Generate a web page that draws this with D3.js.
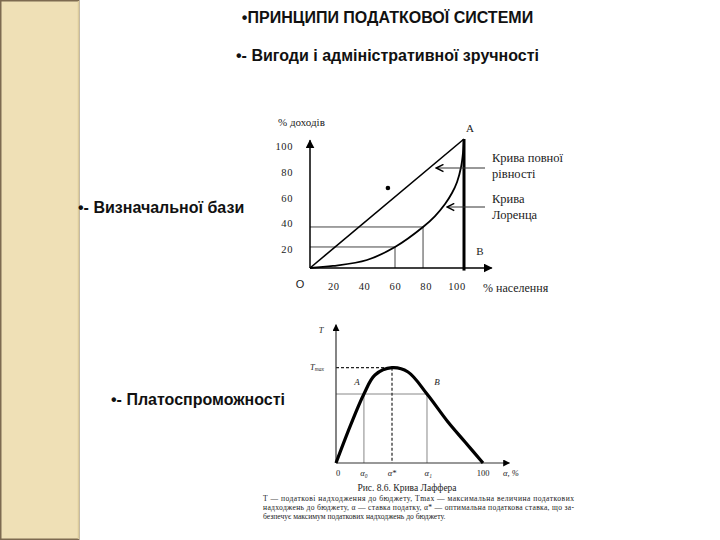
<!DOCTYPE html>
<html><head><meta charset="utf-8">
<script src="https://cdn.jsdelivr.net/npm/d3@7"></script>
<style>
html,body{margin:0;padding:0;background:#fff;}
svg{display:block;}
.h{font-family:"Liberation Sans",Arial,sans-serif;font-weight:bold;fill:#111;}
.s{font-family:"Liberation Serif","Times New Roman",serif;fill:#222;}
</style></head>
<body>
<script>
// ---------- data ----------
const titleText = "•ПРИНЦИПИ ПОДАТКОВОЇ СИСТЕМИ";
const bulletTexts = ["•- Вигоди і адміністративної зручності", "•- Визначальної бази", "•- Платоспроможності"];

// Lorenz chart (% population -> % income)
const lorenzX = [0, 14.9, 37, 55.2, 73.4, 81.2, 87.7, 92.2, 95.5, 98.1, 99.4, 100];
const lorenzY = [0, 1.6, 6.2, 16.3, 31.8, 40.3, 49.6, 58.1, 66.7, 78.3, 89.9, 100];
const equalityX = [0, 100];
const equalityY = [0, 100];
const lorenzGuideX = [55.2, 73.4];
const lorenzGuideY = [16.3, 31.8];
const lorenzTicks = [20, 40, 60, 80, 100];
const lorenzLabels = ["Крива повної", "рівності", "Крива", "Лоренца"];

// Laffer curve (tax rate -> tax revenue, % of max)
const lafferX = [0, 10, 19, 26.5, 38.1, 49, 61.9, 76.2, 87.8, 100];
const lafferY = [0, 40, 72.4, 92.3, 100, 95.5, 72.4, 43, 22, 0];
const lafferTickVals = [0, 19, 38.1, 62.8, 100];
const lafferTickLabels = ["0", "α₀", "α*", "α₁", "100"];
const lafferA = [19, 72.4];
const lafferB = [61.9, 72.4];
const lafferPeak = [38.1, 100];
const captionTitle = "Рис. 8.6. Крива Лаффера";
const captionLines = [
  "Т — податкові надходження до бюджету, Tmax — максимальна величина податкових",
  "надходжень до бюджету, α — ставка податку, α* — оптимальна податкова ставка, що за-",
  "безпечує максимум податкових надходжень до бюджету."
];

// ---------- drawing ----------
const W = 720, H = 540;
const svg = d3.select("body").append("svg").attr("width", W).attr("height", H);

const defs = svg.append("defs");
defs.append("marker").attr("id","tri").attr("viewBox","0 0 10 10").attr("refX",9).attr("refY",5)
  .attr("markerWidth",7).attr("markerHeight",7).attr("markerUnits","userSpaceOnUse").attr("orient","auto")
  .append("path").attr("d","M0,0 L10,5 L0,10 Z").attr("fill","#000");
defs.append("marker").attr("id","triL").attr("viewBox","0 0 10 10").attr("refX",9).attr("refY",5)
  .attr("markerWidth",9).attr("markerHeight",9).attr("markerUnits","userSpaceOnUse").attr("orient","auto")
  .append("path").attr("d","M0,0 L10,5 L0,10 Z").attr("fill","#000");
defs.append("marker").attr("id","chevE").attr("viewBox","0 0 10 10").attr("refX",9).attr("refY",5)
  .attr("markerWidth",9).attr("markerHeight",9).attr("markerUnits","userSpaceOnUse").attr("orient","auto")
  .append("path").attr("d","M1,1 L9,5 L1,9").attr("fill","none").attr("stroke","#000").attr("stroke-width",1.6);

// sidebar
svg.append("rect").attr("x",0.75).attr("y",0.75).attr("width",78).attr("height",H-1.5)
  .attr("fill","#efe0b6").attr("stroke","#7d6a50").attr("stroke-width",1.5);
svg.append("line").attr("x1",78.5).attr("x2",78.5).attr("y1",1).attr("y2",H-1).attr("stroke","#dccb9c").attr("stroke-width",1.5);

// headings
svg.append("text").attr("class","h").attr("x",387.5).attr("y",22.5).attr("text-anchor","middle")
  .attr("font-size",16).text(titleText);
svg.append("text").attr("class","h").attr("x",387.5).attr("y",60.5).attr("text-anchor","middle")
  .attr("font-size",16).text(bulletTexts[0]);
svg.append("text").attr("class","h").attr("x",78).attr("y",212.5)
  .attr("font-size",16).text(bulletTexts[1]);
svg.append("text").attr("class","h").attr("x",111).attr("y",404.5)
  .attr("font-size",16).text(bulletTexts[2]);

// ----- Lorenz chart -----
const lx = d3.scaleLinear().domain([0,100]).range([310,464]);
const ly = d3.scaleLinear().domain([0,100]).range([268,139]);
const L = svg.append("g");

// guide lines
lorenzGuideX.forEach((gx,i)=>{
  const gy = lorenzGuideY[i];
  L.append("line").attr("x1",lx(0)).attr("x2",lx(gx)).attr("y1",ly(gy)).attr("y2",ly(gy)).attr("stroke","#444").attr("stroke-width",1);
  L.append("line").attr("x1",lx(gx)).attr("x2",lx(gx)).attr("y1",ly(gy)).attr("y2",ly(0)).attr("stroke","#444").attr("stroke-width",1);
});
// axes
L.append("line").attr("x1",lx(0)).attr("x2",lx(0)).attr("y1",ly(0)).attr("y2",ly(99)).attr("stroke","#000").attr("stroke-width",1.5).attr("marker-end","url(#triL)");
L.append("line").attr("x1",lx(0)).attr("x2",lx(118)).attr("y1",ly(0)).attr("y2",ly(0)).attr("stroke","#000").attr("stroke-width",1.5).attr("marker-end","url(#triL)");
// A-B vertical
L.append("line").attr("x1",lx(100)).attr("x2",lx(100)).attr("y1",ly(100)).attr("y2",ly(-2)).attr("stroke","#000").attr("stroke-width",3);
// equality line
const lineL = d3.line().x(i=>lx(equalityX[i])).y(i=>ly(equalityY[i]));
L.append("path").attr("d", lineL(d3.range(equalityX.length))).attr("fill","none").attr("stroke","#000").attr("stroke-width",1.6);
// Lorenz curve
const lineLor = d3.line().x(i=>lx(lorenzX[i])).y(i=>ly(lorenzY[i])).curve(d3.curveCatmullRom.alpha(0.5));
L.append("path").attr("d", lineLor(d3.range(lorenzX.length))).attr("fill","none").attr("stroke","#000").attr("stroke-width",1.8);
// dot
L.append("circle").attr("cx",lx(50.6)).attr("cy",ly(62)).attr("r",2.3).attr("fill","#000");
// tick labels
lorenzTicks.forEach(v=>{
  L.append("text").attr("class","s").attr("x",lx(v)-7).attr("y",ly(0)+22).attr("text-anchor","middle").attr("font-size",10.5).attr("letter-spacing",0.6).text(v);
  L.append("text").attr("class","s").attr("x",lx(0)-17).attr("y",ly(v)+11).attr("text-anchor","end").attr("font-size",10.5).attr("letter-spacing",0.6).text(v);
});
L.append("text").attr("class","s").attr("x",278).attr("y",126).attr("font-size",11).text("% доходів");
L.append("text").attr("class","s").attr("x",483).attr("y",292).attr("font-size",12).text("% населення");
L.append("text").attr("x",300).attr("y",288).attr("text-anchor","middle").attr("font-family","Liberation Sans, Arial").attr("font-size",11).attr("fill","#222").text("O");
L.append("text").attr("class","s").attr("x",470).attr("y",132).attr("text-anchor","middle").attr("font-size",11).text("A");
L.append("text").attr("class","s").attr("x",480).attr("y",255).attr("text-anchor","middle").attr("font-size",11).text("B");
// pointer arrows
[[168,82],[207,89]].forEach(([yy,tipX])=>{
  L.append("line").attr("x1",485).attr("x2",lx(tipX)).attr("y1",yy).attr("y2",yy).attr("stroke","#333").attr("stroke-width",1).attr("marker-end","url(#chevE)");
});
L.append("text").attr("class","s").attr("x",492).attr("y",162).attr("font-size",12.5).text(lorenzLabels[0]);
L.append("text").attr("class","s").attr("x",492).attr("y",178).attr("font-size",12.5).text(lorenzLabels[1]);
L.append("text").attr("class","s").attr("x",492).attr("y",203).attr("font-size",12.5).text(lorenzLabels[2]);
L.append("text").attr("class","s").attr("x",492).attr("y",219).attr("font-size",12.5).text(lorenzLabels[3]);

// ----- Laffer chart -----
const fx = d3.scaleLinear().domain([0,100]).range([336,483]);
const fy = d3.scaleLinear().domain([0,100]).range([463,367.7]);
const F = svg.append("g");
// guide lines
F.append("line").attr("x1",fx(0)).attr("x2",fx(lafferB[0])).attr("y1",fy(lafferA[1])).attr("y2",fy(lafferA[1])).attr("stroke","#888").attr("stroke-width",1);
[lafferA, lafferB].forEach(p=>{
  F.append("line").attr("x1",fx(p[0])).attr("x2",fx(p[0])).attr("y1",fy(p[1])).attr("y2",fy(0)).attr("stroke","#888").attr("stroke-width",1);
});
F.append("line").attr("x1",fx(0)).attr("x2",fx(lafferPeak[0])).attr("y1",fy(lafferPeak[1])).attr("y2",fy(lafferPeak[1])).attr("stroke","#222").attr("stroke-width",1.2).attr("stroke-dasharray","3,2");
F.append("line").attr("x1",fx(lafferPeak[0])).attr("x2",fx(lafferPeak[0])).attr("y1",fy(lafferPeak[1])).attr("y2",fy(0)).attr("stroke","#222").attr("stroke-width",1.2).attr("stroke-dasharray","3,2");
// axes
F.append("line").attr("x1",fx(0)).attr("x2",fx(0)).attr("y1",fy(0)).attr("y2",fy(145)).attr("stroke","#333").attr("stroke-width",1.2).attr("marker-end","url(#tri)");
F.append("line").attr("x1",fx(0)).attr("x2",fx(118)).attr("y1",fy(0)).attr("y2",fy(0)).attr("stroke","#333").attr("stroke-width",1.2).attr("marker-end","url(#tri)");
// curve
const lineF = d3.line().x(i=>fx(lafferX[i])).y(i=>fy(lafferY[i])).curve(d3.curveCatmullRom.alpha(0.5));
F.append("path").attr("d", lineF(d3.range(lafferX.length))).attr("fill","none").attr("stroke","#000").attr("stroke-width",3.2).attr("stroke-linejoin","round");
// labels
lafferTickVals.forEach((v,i)=>{
  F.append("text").attr("class","s").attr("x",fx(v)+ (i===0?2:0)).attr("y",fy(0)+13).attr("text-anchor","middle")
    .attr("font-size",8.5).attr("font-style",i===0||i===4?"normal":"italic").attr("fill","#444").text(lafferTickLabels[i]);
});
F.append("text").attr("class","s").attr("x",503).attr("y",fy(0)+13).attr("font-size",8.5).attr("font-style","italic").attr("fill","#444").text("α, %");
F.append("text").attr("class","s").attr("x",321).attr("y",333).attr("text-anchor","middle").attr("font-size",8.5).attr("font-style","italic").attr("fill","#444").text("T");
const tm = F.append("text").attr("class","s").attr("x",310).attr("y",fy(100)+2).attr("font-size",8.5).attr("font-style","italic").attr("fill","#444");
tm.append("tspan").text("T");
tm.append("tspan").attr("font-size",5.5).attr("dy",1.5).text("max");
F.append("text").attr("class","s").attr("x",357).attr("y",385).attr("text-anchor","middle").attr("font-size",9).attr("font-style","italic").attr("fill","#444").text("A");
F.append("text").attr("class","s").attr("x",437).attr("y",385).attr("text-anchor","middle").attr("font-size",9).attr("font-style","italic").attr("fill","#444").text("B");

// caption
svg.append("text").attr("class","s").attr("x",407).attr("y",491).attr("text-anchor","middle").attr("font-size",9.5).attr("fill","#555").text(captionTitle);
captionLines.forEach((t,i)=>{
  const tx = svg.append("text").attr("class","s").attr("x",263).attr("y",501+i*9).attr("font-size",7.6).attr("fill","#666").text(t);
  if (i<2) tx.attr("textLength",311).attr("lengthAdjust","spacing");
});
</script>
</body></html>
